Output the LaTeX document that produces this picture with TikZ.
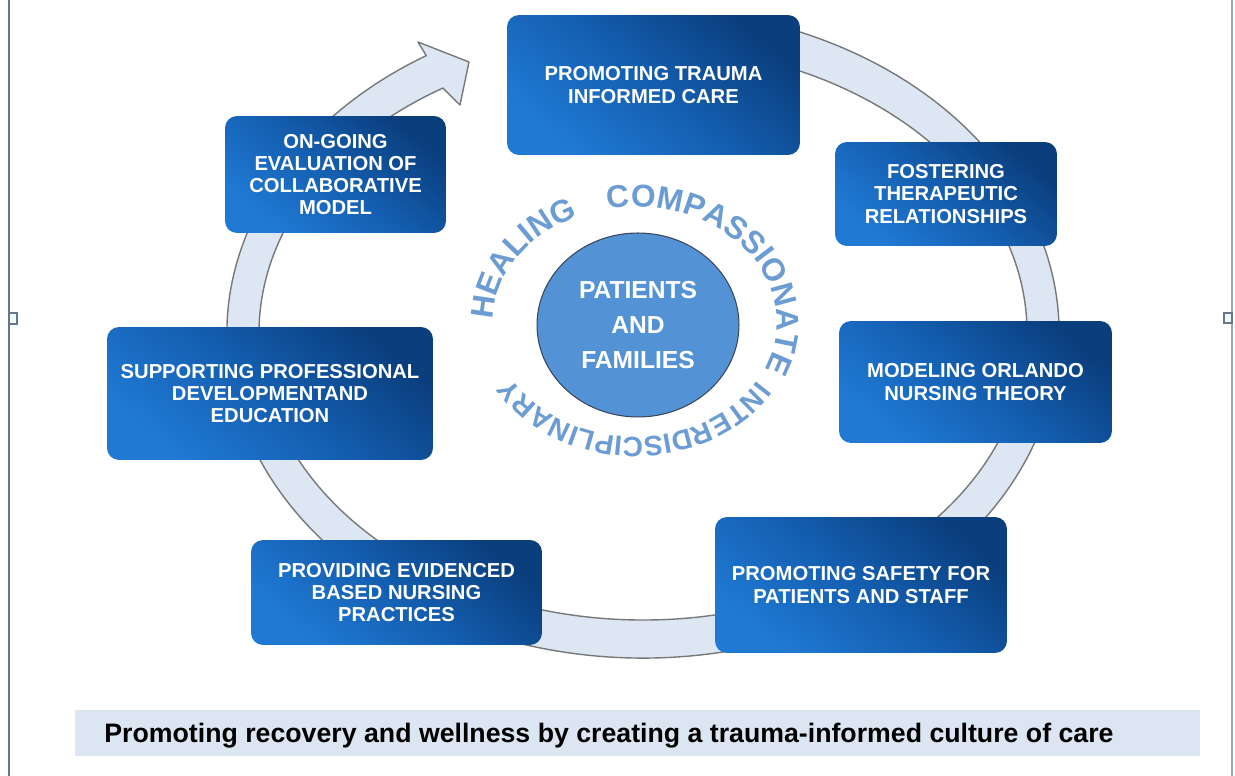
\documentclass[tikz,border=0pt]{standalone}
\usepackage{fontspec}
\setmainfont{Liberation Sans}
\usetikzlibrary{decorations.text,shapes.geometric}
\definecolor{boxlight}{RGB}{32,122,212}
\definecolor{boxmid}{RGB}{20,94,176}
\definecolor{boxdark}{RGB}{10,62,125}
\definecolor{ringfill}{RGB}{221,231,243}
\definecolor{ringline}{RGB}{120,120,120}
\definecolor{hubfill}{RGB}{84,146,214}
\definecolor{hubline}{RGB}{60,70,90}
\definecolor{arcblue}{RGB}{108,156,212}
\definecolor{bandfill}{RGB}{220,230,242}
\definecolor{frameline}{RGB}{100,120,140}
\definecolor{frameright}{RGB}{150,170,190}
\newcommand\arcfont{\fontsize{18}{18}\selectfont\bfseries\color{arcblue}}
\newcommand\arcfontsmall{\fontsize{16}{16}\selectfont\bfseries\color{arcblue}}
\begin{document}
\begin{tikzpicture}[x=0.02cm,y=-0.02cm,
  stepbox/.style={rectangle, rounded corners=0.24cm, inner sep=0pt,
    top color=boxdark, bottom color=boxlight, middle color=boxmid, shading angle=-40,
    text=white, align=center, font=\bfseries\fontsize{11.5}{12.6}\selectfont},
  hub/.style={ellipse, inner sep=0pt, fill=hubfill, draw=hubline, line width=0.6pt,
    text=white, align=center, font=\bfseries\fontsize{14}{20}\selectfont},
  ring/.style={fill=ringfill, draw=ringline, line width=0.8pt, line join=round},
  arctext/.style={decorate, decoration={text along path, text align=center, text={|\arcfont|#1}}},
  arctextsmall/.style={decorate, decoration={text along path, text align=center, text={|\arcfontsmall|#1}}},
  band/.style={rectangle, inner sep=0pt, fill=bandfill},
  frame/.style={draw=frameline, line width=1.2pt}
]
\useasboundingbox (0,0) rectangle (1235,776);

% frame lines
\draw[frame] (9,0) -- (9,776);
\draw[draw=frameright, line width=1.2pt] (1232,0) -- (1232,776);
\draw[draw=frameline, line width=0.8pt, fill=cyan!6] (9,313) rectangle (17,324);
\draw[draw=frameline, line width=0.8pt, fill=cyan!6] (1224,313) rectangle (1232,323);

% circular arrow ring
\begin{scope}[shift={(643,333)}, y=0.02cm]
  \filldraw[ring] (72:416 and 325) arc[start angle=72, end angle=-238.6, x radius=416, y radius=325]
    -- (-225,291) -- (-174,271) -- (-183,228)
    -- (-238.6:384 and 287) arc[start angle=-238.6, end angle=72, x radius=384, y radius=287] -- cycle;
\end{scope}

% boxes
\node[stepbox, minimum width=5.86cm, minimum height=2.80cm] (trauma) at (653.5,85) {PROMOTING TRAUMA\\INFORMED CARE};
\node[stepbox, minimum width=4.44cm, minimum height=2.08cm] (fostering) at (946,194) {FOSTERING\\THERAPEUTIC\\RELATIONSHIPS};
\node[stepbox, minimum width=5.46cm, minimum height=2.44cm] (orlando) at (975.5,382) {MODELING ORLANDO\\NURSING THEORY};
\node[stepbox, minimum width=5.84cm, minimum height=2.72cm] (safety) at (861,585) {PROMOTING SAFETY FOR\\PATIENTS AND STAFF};
\node[stepbox, minimum width=5.82cm, minimum height=2.10cm] (evidence) at (396.5,592.5) {PROVIDING EVIDENCED\\BASED NURSING\\PRACTICES};
\node[stepbox, minimum width=6.52cm, minimum height=2.66cm] (development) at (270,393.5) {SUPPORTING PROFESSIONAL\\DEVELOPMENTAND\\EDUCATION};
\node[stepbox, minimum width=4.42cm, minimum height=2.34cm] (evaluation) at (335.5,174.5) {ON-GOING\\EVALUATION OF\\COLLABORATIVE\\MODEL};

% hub
\node[hub, minimum width=4.04cm, minimum height=3.68cm] (center) at (638,325) {PATIENTS\\AND\\FAMILIES};

% curved words
\begin{scope}[shift={(635,322)}, y=0.02cm]
  \path[arctext=HEALING] (198:142 and 115) arc[start angle=198, end angle=98, x radius=142, y radius=115];
  \path[arctext=COMPASSIONATE] (112.5:142 and 115) arc[start angle=112.5, end angle=-37.5, x radius=142, y radius=115];
  \path[arctextsmall=INTERDISCIPLINARY] (-11:142 and 115) arc[start angle=-11, end angle=-171, x radius=142, y radius=115];
\end{scope}

% bottom banner
\node[band, minimum width=22.5cm, minimum height=0.92cm] (banner) at (637.5,733) {};
\node[font=\bfseries\fontsize{15.2}{17}\selectfont, inner sep=0pt] (caption) at (609,736) {Promoting recovery and wellness by creating a trauma-informed culture of care};
\end{tikzpicture}
\end{document}
